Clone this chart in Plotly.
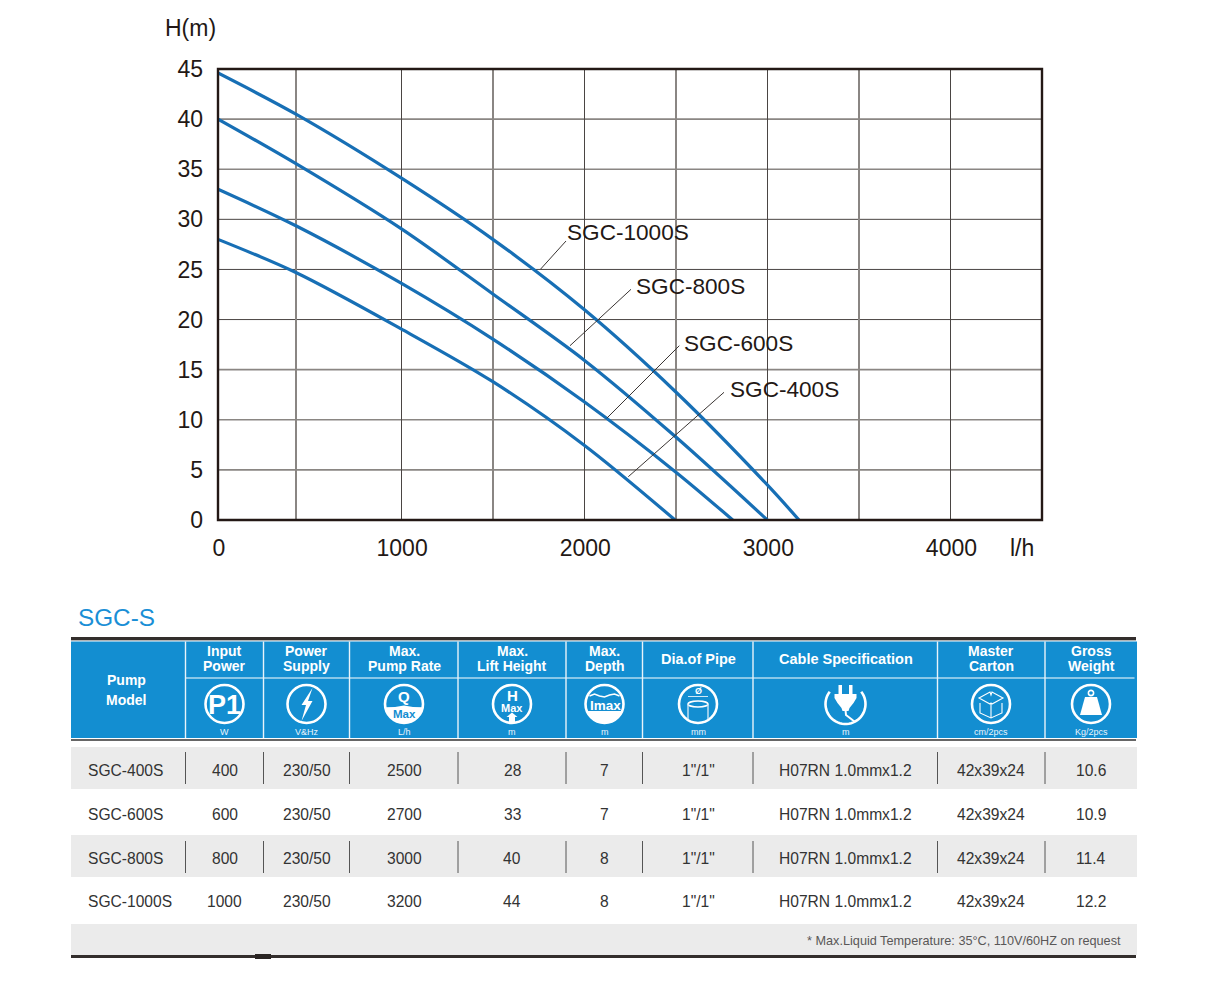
import numpy as np
import plotly.graph_objects as go

W = 1209
H = 981

flow_1000 = [0, 428, 1000, 1501, 2000, 2499, 3000, 3173]
head_1000 = [44.6, 40.47, 34.13, 28, 21, 12.8, 3.5, 0]
flow_800 = [0, 428, 1000, 1501, 2000, 2499, 3000]
head_800 = [40, 35.53, 29.07, 22.55, 15.95, 8.3, 0]
flow_600 = [0, 428, 1000, 1501, 2000, 2499, 2811]
head_600 = [33, 29.33, 23.63, 18.05, 11.8, 4.8, 0]
flow_400 = [0, 428, 1000, 1501, 2000, 2496]
head_400 = [28, 24.67, 19.07, 13.8, 7.46, 0]

flow_ticks = [0, 1000, 2000, 3000, 4000]
flow_minor = [428, 1500, 2500, 3500, 4500]
head_ticks = [0, 5, 10, 15, 20, 25, 30, 35, 40, 45]
head_dark = [20, 25, 30]
head_light = [5, 10, 15, 35, 40]

# table contents
group_title = "SGC-S"
models = ["SGC-400S", "SGC-600S", "SGC-800S", "SGC-1000S"]
input_power = ["400", "600", "800", "1000"]
power_supply = ["230/50", "230/50", "230/50", "230/50"]
pump_rate = ["2500", "2700", "3000", "3200"]
lift_height = ["28", "33", "40", "44"]
max_depth = ["7", "7", "8", "8"]
pipe_dia = ['1"/1"', '1"/1"', '1"/1"', '1"/1"']
cable_spec = ["H07RN 1.0mmx1.2"] * 4
master_carton = ["42x39x24"] * 4
gross_weight = ["10.6", "10.9", "11.4", "12.2"]
headers = ["Input<br>Power", "Power<br>Supply", "Max.<br>Pump Rate", "Max.<br>Lift Height", "Max.<br>Depth",
           "Dia.of Pipe", "Cable Specification", "Master<br>Carton", "Gross<br>Weight"]
units = ["W", "V&Hz", "L/h", "m", "m", "mm", "m", "cm/2pcs", "Kg/2pcs"]
footnote = "* Max.Liquid Temperature: 35°C, 110V/60HZ on request"

FONT = "Liberation Sans"
DARK = "#231815"
BLUE = "#138ed1"
CURVE = "#176fb5"
GRAY_ROW = "#ebebeb"

col_edges = [185.5, 263.5, 349.5, 458, 566, 642.5, 753, 937.5, 1045]
col_centers = [224.5, 306.5, 404, 512, 604.5, 698, 845.5, 991, 1091]
row_y = [770, 814, 858, 901]

fig = go.Figure()

for name, x, y in [("SGC-1000S", flow_1000, head_1000), ("SGC-800S", flow_800, head_800),
                   ("SGC-600S", flow_600, head_600), ("SGC-400S", flow_400, head_400)]:
    fig.add_trace(go.Scatter(x=x, y=y, mode="lines", name=name,
                             line=dict(color=CURVE, width=3.2, shape="spline", smoothing=0.9)))

# second subplot over the whole page, its axes count in page pixels
fig.add_trace(go.Scatter(x=[0, W], y=[H, 0], xaxis="x2", yaxis="y2", mode="markers",
                         marker=dict(opacity=0), hoverinfo="skip"))

shapes = []
notes = []

for v in head_dark:
    shapes.append(dict(type="line", xref="x domain", yref="y", x0=0, x1=1, y0=v, y1=v, layer="below",
                       line=dict(color="#4a4543", width=1)))
for v in head_light:
    shapes.append(dict(type="line", xref="x domain", yref="y", x0=0, x1=1, y0=v, y1=v, layer="below",
                       line=dict(color="#8a8683", width=1.6)))
# plot frame, centred on the axis ends
shapes.append(dict(type="rect", xref="x domain", yref="y domain", x0=0, x1=1, y0=0, y1=1,
                   fillcolor="rgba(0,0,0,0)", line=dict(color=DARK, width=2.4)))


def rect(x0, y0, x1, y1, color):
    shapes.append(dict(type="rect", xref="x2", yref="y2", x0=x0, y0=y0, x1=x1, y1=y1,
                       fillcolor=color, line=dict(width=0)))


def line(x0, y0, x1, y1, color="white", width=1.0):
    shapes.append(dict(type="line", xref="x2", yref="y2", x0=x0, y0=y0, x1=x1, y1=y1,
                       line=dict(color=color, width=width)))


def circle(cx, cy, r, fill=None, color="white", width=2.6):
    shapes.append(dict(type="circle", xref="x2", yref="y2", x0=cx - r, y0=cy - r, x1=cx + r, y1=cy + r,
                       fillcolor=fill if fill else "rgba(0,0,0,0)", line=dict(color=color, width=width)))


def poly(pts, fill=None, color="white", width=0, close=True):
    path = "M" + "L".join("%.2f,%.2f" % (p[0], p[1]) for p in pts) + ("Z" if close else "")
    shapes.append(dict(type="path", xref="x2", yref="y2", path=path,
                       fillcolor=fill if fill else "rgba(0,0,0,0)", line=dict(color=color, width=width)))


def arc(cx, cy, r, a0, a1, n=40):
    # angles in degrees, clockwise from the right on screen
    a = np.radians(np.linspace(a0, a1, n))
    return list(zip(cx + r * np.cos(a), cy + r * np.sin(a)))


def text(x, y, s, size, color="#333333", bold=False, anchor="center", family=FONT):
    if bold:
        s = "<b>" + s + "</b>"
    notes.append(dict(xref="x2", yref="y2", x=x, y=y, text=s, showarrow=False, xanchor=anchor, yanchor="middle",
                      font=dict(family=family, size=size, color=color), align="center"))


# chart labels and their leader lines
text(190, 28, "H(m)", 23, DARK)
text(1022, 548, "l/h", 23, DARK)
text(565, 232, "SGC-1000S", 22.6, DARK, anchor="left")
text(634, 286, "SGC-800S", 22.6, DARK, anchor="left")
text(682, 343, "SGC-600S", 22.6, DARK, anchor="left")
text(728, 389, "SGC-400S", 22.6, DARK, anchor="left")
line(540.7, 269, 566, 241, "#3a3533", 1)
line(570, 345.7, 631, 289.3, "#3a3533", 1)
line(606.7, 418.3, 679.3, 345.7, "#3a3533", 1)
line(628.3, 476.7, 724, 392.3, "#3a3533", 1)

# table frame
text(76, 617, group_title, 24.3, "#1a8fd6", anchor="left")
rect(71, 637, 1136, 640, "#332e2c")
rect(71, 640, 1136, 641, "#b5b5b5")
rect(71, 641.5, 1137, 738, BLUE)
rect(71, 739, 1136, 741, "#666666")
for y0, y1 in [(747, 789), (835, 877), (924, 955)]:
    rect(71, y0, 1137, y1, GRAY_ROW)
rect(71, 955, 1136, 958, "#332e2c")
rect(255, 954, 271, 959, "#2a2523")

# header cells
line(185.5, 678, 1134.5, 678, "white", 1.2)
for x in col_edges:
    line(x, 641.5, x, 738, "#e8f3fa", 1.4)
text(126, 680, "Pump", 14, "white", True)
text(126, 700, "Model", 14, "white", True)
for cx, h, u in zip(col_centers, headers, units):
    if "<br>" in h:
        top, bottom = h.split("<br>")
        text(cx, 651, top, 14, "white", True)
        text(cx, 666, bottom, 14, "white", True)
    else:
        text(cx, 659, h, 14.5, "white", True)
    text(cx, 732, u, 9, "#eaf4fb")

CY = 704
R = 19

# P1
cx = col_centers[0]
circle(cx, CY, R)
text(cx, CY + 0.5, "P1", 27, "white", True)

# bolt
cx = col_centers[1]
circle(cx, CY, R)
poly([(cx + 6, CY - 16), (cx - 5, CY + 1), (cx - 0.5, CY + 1), (cx - 5, CY + 17),
      (cx + 6, CY - 3), (cx + 1.5, CY - 3)], fill="white")

# Q max
cx = col_centers[2]
circle(cx, CY, R)
poly(arc(cx, CY, R, 10, 170) + [(cx - 9, CY + 3), (cx, CY + 1.5), (cx + 9, CY + 3)], fill="white")
text(cx, CY - 8, "Q", 15, "white", True)
text(cx, CY + 9.5, "Max", 11.5, BLUE, True)

# H max
cx = col_centers[3]
circle(cx, CY, R)
text(cx, CY - 9, "H", 15, "white", True)
text(cx, CY + 4, "Max", 11, "white", True)
poly([(cx, CY + 8.5), (cx + 5.5, CY + 13), (cx + 3, CY + 13), (cx + 3, CY + 18),
      (cx - 3, CY + 18), (cx - 3, CY + 13), (cx - 5.5, CY + 13)], fill="white")

# depth
cx = col_centers[4]
circle(cx, CY, R)
poly(arc(cx, CY, R, 22, 158), fill="white")
wave = [(cx - 15, CY - 8), (cx - 10, CY - 10), (cx - 5, CY - 8), (cx, CY - 7), (cx + 5, CY - 9), (cx + 10, CY - 10), (cx + 15, CY - 8)]
poly(wave, color="white", width=1.5, close=False)
text(cx + 1, CY + 1, "Imax", 13.5, "white", True)

# pipe
cx = col_centers[5]
circle(cx, CY, R)
text(cx, CY - 13, "Ø", 9, "white", True)
line(cx - 10, CY - 7.5, cx + 10, CY - 7.5, "white", 0.8)
shapes.append(dict(type="circle", xref="x2", yref="y2", x0=cx - 10, x1=cx + 10, y0=CY - 3, y1=CY + 3,
                   fillcolor="rgba(0,0,0,0)", line=dict(color="white", width=1.6)))
line(cx - 10, CY, cx - 10, CY + 15, "#cfe6f5", 1.4)
line(cx + 10, CY, cx + 10, CY + 15, "#cfe6f5", 1.4)

# plug
cx = col_centers[6]
poly(arc(cx, CY, R + 1, -38, 218), color="white", width=2.6, close=False)
rect(cx - 7, CY - 19, cx - 3.5, CY - 9, "white")
rect(cx + 3.5, CY - 19, cx + 7, CY - 9, "white")
poly([(cx - 11, CY - 10), (cx + 11, CY - 10), (cx + 11, CY - 6), (cx + 8, CY - 1), (cx + 4, CY + 4),
      (cx + 3, CY + 7), (cx - 3, CY + 7), (cx - 4, CY + 4), (cx - 8, CY - 1), (cx - 11, CY - 6)], fill="white")
poly([(cx, CY + 6), (cx + 0.5, CY + 11), (cx + 7, CY + 16), (cx + 10, CY + 18)], color="white", width=2, close=False)

# carton
cx = col_centers[7]
circle(cx, CY, R)
poly([(cx - 12, CY - 6), (cx - 1, CY - 12), (cx, CY - 9), (cx + 1, CY - 12), (cx + 12, CY - 6),
      (cx + 1, CY), (cx, CY - 1), (cx - 1, CY)], color="white", width=1.1)
poly([(cx - 11, CY - 1), (cx - 11, CY + 9), (cx, CY + 14), (cx + 11, CY + 9), (cx + 11, CY - 1)],
     color="white", width=1.1, close=False)
line(cx, CY - 1, cx, CY + 14, "white", 1.1)

# weight
cx = col_centers[8]
circle(cx, CY, R)
circle(cx, CY - 11, 2.6, width=1.6)
poly([(cx - 6, CY - 7), (cx + 6, CY - 7), (cx + 11, CY + 11), (cx - 11, CY + 11)], fill="white")

# body rows
for i, y in enumerate(row_y):
    text(86, y, models[i], 15.6, anchor="left")
    cols = [input_power, power_supply, pump_rate, lift_height, max_depth, pipe_dia, cable_spec, master_carton, gross_weight]
    for cx, col in zip(col_centers, cols):
        text(cx, y, col[i], 15.6)
for y0, y1 in [(752, 784), (841, 873)]:
    for x in col_edges:
        line(x, y0, x, y1, "#555555", 1)
text(1123, 941, footnote, 12.7, "#595757", anchor="right")

fig.update_layout(
    width=W, height=H, autosize=False, showlegend=False,
    margin=dict(l=0, r=0, t=0, b=0, pad=0, autoexpand=False),
    paper_bgcolor="white", plot_bgcolor="rgba(0,0,0,0)",
    font=dict(family=FONT, color=DARK),
    shapes=shapes, annotations=notes,
    xaxis=dict(domain=[218 / W, 1042 / W], range=[0, 4500], tickmode="array", tickvals=flow_ticks,
               ticks="", showgrid=True, gridcolor="#4a4543", gridwidth=1, zeroline=False, automargin=False,
               showline=False,
               tickfont=dict(size=23, color=DARK), ticklabelstandoff=12, ticklabelshift=1,
               minor=dict(tickmode="array", tickvals=flow_minor, showgrid=True, gridcolor="#8a8683", gridwidth=1.6, ticks="")),
    yaxis=dict(domain=[1 - 520 / H, 1 - 69 / H], range=[0, 45], tickmode="array", tickvals=head_ticks,
               ticks="", showgrid=False, zeroline=False, automargin=False,
               showline=False,
               tickfont=dict(size=23, color=DARK), ticklabelstandoff=14),
    xaxis2=dict(domain=[0, 1], range=[0, W], anchor="y2", visible=False, fixedrange=True, automargin=False),
    yaxis2=dict(domain=[0, 1], range=[H, 0], anchor="x2", visible=False, fixedrange=True, automargin=False),
)

fig.write_html("out.html", config={"displayModeBar": False},
               post_script="document.body.style.margin='0';document.body.style.overflow='hidden';")
